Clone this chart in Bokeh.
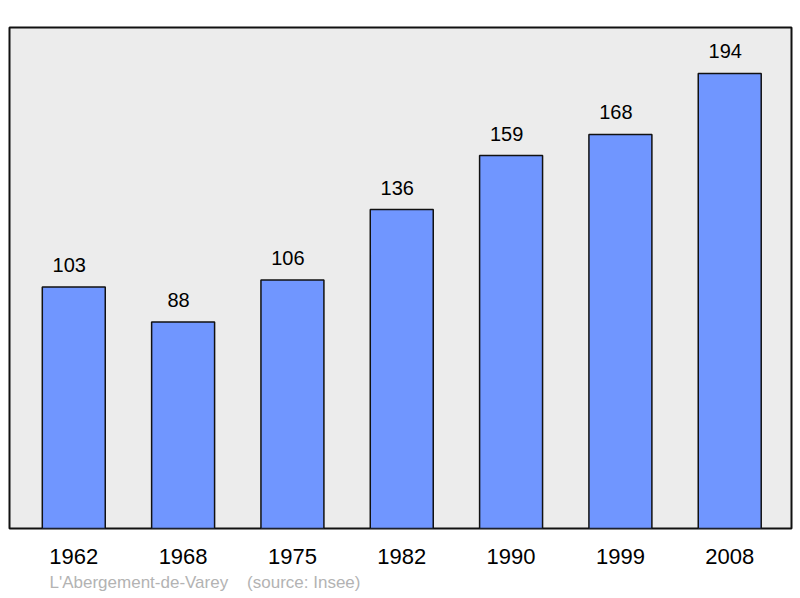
from bokeh.plotting import figure
from bokeh.models import Range1d, FixedTicker, Title, ColumnDataSource
from bokeh.core.properties import value
from bokeh.embed import file_html
from bokeh.resources import INLINE

years = ["1962", "1968", "1975", "1982", "1990", "1999", "2008"]
population = [103, 88, 106, 136, 159, 168, 194]
commune = "L'Abergement-de-Varey"
source_note = "(source: Insee)"

xs = list(range(len(years)))
src = ColumnDataSource(dict(x=xs, top=population, lbl=[str(v) for v in population]))

p = figure(width=800, height=598, output_backend="svg", toolbar_location=None,
           x_range=Range1d(-0.588, 6.565), y_range=Range1d(0, 213.6),
           min_border_left=9, min_border_right=9, min_border_top=27, min_border_bottom=70)
p.background_fill_color = "#ececec"
p.border_fill_color = "white"
p.outline_line_color = "#111111"
p.outline_line_width = 2
p.grid.visible = False
p.yaxis.visible = False

p.vbar(x="x", top="top", width=0.576, source=src, fill_color="#7096ff",
       line_color="#111111", line_width=1.5)
p.text(x="x", y="top", text="lbl", source=src, text_align="center",
       text_baseline="alphabetic", x_offset=-4.5, y_offset=-22, text_font_size="20px",
       text_font=value("Liberation Sans"), text_color="black")

ax = p.xaxis[0]
ax.ticker = FixedTicker(ticks=xs)
ax.major_label_overrides = {i: y for i, y in zip(xs, years)}
ax.axis_line_color = None
ax.major_tick_line_color = None
ax.minor_tick_line_color = None
ax.major_label_text_font = "Liberation Sans"
ax.major_label_text_font_size = "22px"
ax.major_label_text_color = "black"
ax.major_label_standoff = 14

footer = commune + "\u00a0" * 4 + source_note
p.add_layout(Title(text=footer, align="left", offset=40, standoff=9,
                   text_font="Liberation Sans", text_font_size="17px",
                   text_font_style="normal", text_color="#b3b3b3"), "below")

open("out.html", "w").write(file_html(p, INLINE))
